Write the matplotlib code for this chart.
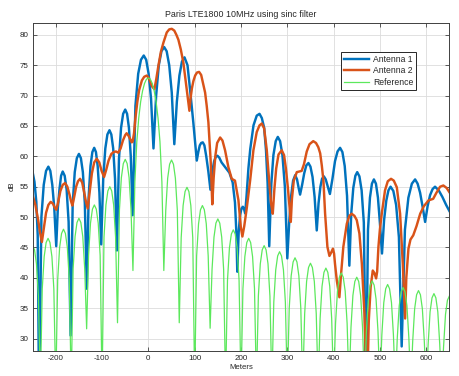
import numpy as np
import matplotlib
matplotlib.use("Agg")
import matplotlib.pyplot as plt

plt.rcParams['font.family'] = ['Liberation Sans', 'DejaVu Sans']
plt.rcParams['axes.unicode_minus'] = False

title = "Paris LTE1800 10MHz using sinc filter"
x_label = "Meters"
y_label = "dB"
series_names = ["Antenna 1", "Antenna 2", "Reference"]
x_ticks = [-200, -100, 0, 100, 200, 300, 400, 500, 600]
y_ticks = [30, 35, 40, 45, 50, 55, 60, 65, 70, 75, 80]

# Antenna 1
ant1_x = [-250, -246, -242, -239, -236,
          -231, -226, -221, -216, -211.75, -207.5, -203.25, -199,
          -195.5, -192, -188.5, -185, -180.75, -176.5, -172.25, -168,
          -163.5, -159, -154.5, -150, -145.75, -141.5, -137.25, -133,
          -129, -125, -121, -117, -113.25, -109.5, -105.75, -102,
          -97.5, -93, -88.5, -84, -80, -76, -72, -68,
          -63.5, -59, -54.5, -50, -46, -42, -38, -34,
          -28, -22, -16, -10, -4.75, 0.5, 5.75, 11,
          16.75, 22.5, 28.25, 34, 39.5, 45, 50.5, 56,
          61.5, 67, 72.5, 78, 84.5, 90, 97, 104.5,
          108, 111, 114, 117.5, 121, 125, 129.5, 134,
          138, 142, 145.5, 149, 153, 158, 166, 175, 182, 187, 190, 192,
          195, 198, 201, 204, 207, 209,
          212, 216, 220, 227, 234, 240,
          245, 250, 254, 257.5, 261,
          265.5, 270, 275, 279.5, 284.5, 289.5, 294.75, 300,
          304, 308, 312.5, 317, 321, 324.5, 327.6,
          332, 336.5, 341, 345.6, 350, 354.5, 359, 363.6,
          367.5, 371.5, 375, 379, 383, 387.5, 392,
          397.5, 403, 408.5, 414, 419, 424, 429, 434,
          438, 442.5, 447, 451, 455.75, 460.5, 465.25, 470,
          474.25, 478.5, 482.75, 487, 491.4, 495.75, 500, 504.5,
          509, 513.75, 518.4, 523, 529, 535, 541, 547,
          554, 561.5, 569, 576, 581.4, 586.8, 592.2, 597.6,
          603, 608.3, 613.7, 619, 627, 635, 643, 650]
ant1_db = [57.4, 55.8, 52.5, 47.0, 20,
           50.0, 55.3, 57.6, 58.3, 57.6, 55.3, 51.5, 45.2,
           51.5, 54.6, 56.8, 57.5, 56.8, 54.5, 49.2, 30.5,
           52.1, 57.4, 59.7, 60.4, 59.7, 57.4, 52.3, 38.2,
           53.3, 58.4, 60.7, 61.4, 60.7, 58.4, 54.0, 45.5,
           56.3, 61.3, 63.6, 64.3, 63.6, 61.3, 56.3, 44.5,
           59.6, 64.7, 67.0, 67.7, 67.0, 64.7, 60.0, 50.3,
           68.3, 73.6, 75.9, 76.6, 75.9, 73.6, 69.5, 61.3,
           70.0, 75.0, 77.3, 78.0, 77.3, 75.0, 70.5, 62.0,
           69.0, 73.3, 75.6, 76.3, 75.0, 71.0, 65.6, 59.3,
           60.8, 61.8, 62.2, 62.3, 61.8, 60.0, 57.5, 54.5,
           57.5, 59.2, 59.9, 60.1, 59.8, 59.0, 58.2, 57.3, 55.7, 52.4, 47.5, 41.0,
           47.5, 50.3, 51.4, 51.7, 51.2, 50.6,
           53.5, 58.0, 61.2, 65.1, 66.7, 67.0,
           66.3, 64.7, 61.0, 55.5, 45.2,
           55.5, 60.2, 62.5, 63.2, 62.5, 60.2, 55.0, 43.2,
           49.0, 53.3, 56.0, 56.9, 56.2, 54.8, 53.7,
           55.3, 57.2, 58.5, 58.9, 58.3, 56.6, 53.3, 47.8,
           52.3, 55.0, 56.3, 56.7, 56.2, 55.0, 53.8,
           56.3, 59.2, 60.8, 61.4, 60.7, 58.4, 53.5, 42.0,
           50.5, 54.8, 56.8, 57.4, 56.7, 54.4, 49.1, 20,
           47.9, 53.2, 55.5, 56.2, 55.5, 53.2, 49.0, 44.0,
           49.5, 52.7, 54.4, 55.0, 54.3, 52.0, 46.7, 28.7,
           47.9, 53.2, 55.5, 56.2, 55.5, 54.0, 51.7, 49.2,
           51.8, 53.6, 54.6, 55.0, 54.4, 53.3, 52.0, 51.0]

# Antenna 2
ant2_x = [-250, -244, -238, -234, -230, -226, -221, -216, -211, -206, -202.5, -199,
          -195, -190, -185, -180, -175, -170, -167, -164,
          -160, -156, -152, -147.5, -143, -139, -135, -131,
          -127, -122, -117, -111.5, -106, -101, -95.7,
          -91, -86, -80, -75, -70, -65, -60, -55, -50, -47, -43, -39, -36,
          -34, -31, -28, -24, -20, -14, -9, -3.5, 0, 4, 8, 13,
          17, 21.6, 27, 32.4, 39.7, 45, 50.5, 56, 60.5, 64.8, 70, 75.6, 80, 84, 88.6,
          91, 94, 97.2, 101, 105, 109.5, 114, 118, 122.5, 126, 129.6, 134.7, 138,
          141, 144.5, 148.5, 155, 160, 165.6, 172.8, 180, 187, 194.4, 199.5, 203,
          207, 212.5, 219.7, 226.8, 234, 240, 245, 250, 255.7, 261.3, 265, 268.6,
          272, 276, 281, 288, 293, 297, 301, 304.5, 307.5,
          310, 314, 320.5, 326, 331, 336, 342, 348, 356, 362, 367, 371, 374.5, 378,
          381.6, 386.6, 391, 395, 398.5, 401, 403, 407, 412.5,
          416, 421, 428.5, 434, 439, 445, 450, 455.7, 461, 466.6, 472,
          476, 480, 484.6, 488, 491.8, 494, 496.8, 500, 504, 511, 517, 524, 530,
          536.5, 543.6, 549.4, 554.4,
          557, 561.6, 566, 572, 579, 587, 595, 605, 615, 622, 630, 637, 644, 650]
ant2_db = [53.6, 52.0, 49.5, 47.5, 45.9, 48.0, 50.7, 52.0, 52.5, 52.2, 51.6, 51.2,
           52.4, 54.3, 55.3, 55.6, 55.0, 53.6, 52.6, 51.9,
           53.4, 55.0, 55.9, 56.3, 55.7, 54.2, 52.6, 51.4,
           54.0, 57.2, 59.0, 59.6, 59.0, 57.6, 56.6,
           57.8, 59.3, 60.4, 60.7, 60.8, 60.6, 61.3, 62.6, 63.5, 63.8, 63.4, 62.8, 62.3,
           62.4, 63.8, 66.3, 68.9, 70.9, 72.5, 73.1, 73.3, 73.0, 72.3, 71.5, 71.05,
           72.7, 74.9, 77.2, 78.7, 80.4, 80.9, 81.0, 80.7, 80.0, 79.2, 77.6, 75.4, 72.7, 70.3, 67.5,
           69.5, 71.2, 72.4, 73.3, 73.8, 73.9, 73.4, 72.0, 70.5, 68.3, 65.6, 59.0, 52.1,
           56.5, 60.0, 62.2, 63.1, 62.6, 61.0, 58.2, 56.3, 56.0, 52.8, 48.4, 46.8,
           48.5, 51.5, 56.0, 61.0, 64.0, 65.1, 65.4, 64.6, 61.0, 55.5, 52.2, 50.55,
           54.5, 58.0, 60.3, 61.0, 60.2, 58.0, 55.0, 52.0, 49.2,
           53.0, 56.0, 57.4, 57.5, 57.6, 58.7, 60.8, 62.0, 62.5, 62.2, 61.5, 60.5, 58.5, 56.0,
           50.6, 45.1, 43.6, 44.2, 44.8, 44.0, 42.3, 39.5, 36.8,
           40.5, 45.1, 48.9, 50.2, 50.55, 50.2, 49.5, 47.3, 42.3, 34.1, 20,
           33.0, 38.5, 41.2, 40.8, 39.9, 41.0, 45.1, 48.0, 50.55, 54.4, 55.9, 56.3, 56.0,
           54.9, 50.55, 42.3, 33.3,
           40.0, 44.8, 46.3, 47.0, 48.5, 50.55, 51.8, 52.75, 53.0, 54.0, 55.0, 55.2, 54.8, 54.1]

# Reference: samples every 25/6 m from -250 to 650
ref_db = [45.3, 44.6, 42.3, 37.0, 22,
          38.2, 43.5, 45.8, 46.5, 45.8, 43.5, 38.2, 22,
          39.7, 45.0, 47.3, 48.0, 47.3, 45.0, 39.7, 22,
          41.5, 46.8, 49.1, 49.8, 49.1, 46.8, 41.5, 31.6,
          43.7, 49.0, 51.3, 52.0, 51.3, 49.0, 43.7, 22,
          46.7, 52.0, 54.3, 55.0, 54.3, 52.0, 46.7, 32.6,
          51.2, 56.5, 58.8, 59.5, 58.8, 56.5, 51.2, 41.2,
          55.8, 62.4, 66.3, 69.0, 70.8, 72.0, 72.7, 72.9,
          72.7, 72.0, 70.8, 69.0, 66.3, 62.4, 55.8, 41.2,
          51.1, 56.4, 58.7, 59.4, 58.7, 56.4, 51.1, 32.6,
          46.6, 51.9, 54.2, 54.9, 54.2, 51.9, 46.6, 22,
          43.6, 48.9, 51.2, 51.9, 51.2, 48.9, 43.6, 31.7,
          41.4, 46.7, 49.0, 49.7, 49.0, 46.7, 41.4, 22,
          39.6, 44.9, 47.2, 47.9, 47.2, 44.9, 39.6, 22,
          38.2, 43.5, 45.8, 46.5, 45.8, 43.5, 38.2, 22,
          37.0, 42.3, 44.6, 45.3, 44.6, 42.3, 37.0, 22,
          36.0, 41.3, 43.6, 44.3, 43.6, 41.3, 36.0, 22,
          35.0, 40.3, 42.6, 43.3, 42.6, 40.3, 35.0, 22,
          34.1, 39.4, 41.7, 42.4, 41.7, 39.4, 34.1, 22,
          33.3, 38.6, 40.9, 41.6, 40.9, 38.6, 33.3, 22,
          32.5, 37.8, 40.1, 40.8, 40.1, 37.8, 32.5, 22,
          31.8, 37.1, 39.4, 40.1, 39.4, 37.1, 31.8, 22,
          31.2, 36.5, 38.8, 39.5, 38.8, 36.5, 31.2, 22,
          30.6, 35.9, 38.2, 38.9, 38.2, 35.9, 30.6, 22,
          30.1, 35.4, 37.7, 38.4, 37.7, 35.4, 30.1, 22,
          29.6, 34.9, 37.2, 37.9, 37.2, 34.9, 29.6, 22,
          29.1, 34.4, 36.7, 37.4, 36.7, 34.4, 29.1, 22,
          28.7, 34.0, 36.3, 37.0]
ref_x = np.linspace(-250, 650, len(ref_db))

colors = ['#0072BD', '#D95319', '#5CE85C']
text_color = '#262626'

fig = plt.figure(figsize=(4.6, 3.76), dpi=100)
ax = fig.add_axes([0.0709, 0.0673, 0.906, 0.8723])

ax.plot(ant1_x, ant1_db, color=colors[0], lw=1.75, label=series_names[0], solid_joinstyle='round')
ax.plot(ant2_x, ant2_db, color=colors[1], lw=1.75, label=series_names[1], solid_joinstyle='round')
ax.plot(ref_x, ref_db, color=colors[2], lw=0.9, label=series_names[2])

ax.set_xlim(-250, 650)
ax.set_ylim(28, 82)
ax.set_xticks(x_ticks)
ax.set_yticks(y_ticks)
ax.grid(True, color='#DCDCDC', lw=0.6)
ax.set_axisbelow(True)
ax.tick_params(direction='in', top=True, right=True, length=3, width=0.6,
               colors='#404040', labelcolor=text_color, labelsize=5.8, pad=3)
for s in ax.spines.values():
    s.set_color('#404040')
    s.set_linewidth(0.7)

ax.set_title(title, fontsize=6.4, color=text_color, pad=4)
ax.set_xlabel(x_label, fontsize=5.6, color=text_color, labelpad=1.5)
ax.set_ylabel(y_label, fontsize=5.6, color=text_color, labelpad=3)

leg = ax.legend(loc='upper left', bbox_to_anchor=(0.739, 0.912), fontsize=6.2,
                frameon=True, fancybox=False, handlelength=3.0, handletextpad=0.4,
                labelspacing=0.3, borderpad=0.35, borderaxespad=0)
leg.get_frame().set_edgecolor('#262626')
leg.get_frame().set_linewidth(0.7)
leg.get_frame().set_alpha(1)
for t in leg.get_texts():
    t.set_color(text_color)

fig.savefig('out.png', dpi=100)
